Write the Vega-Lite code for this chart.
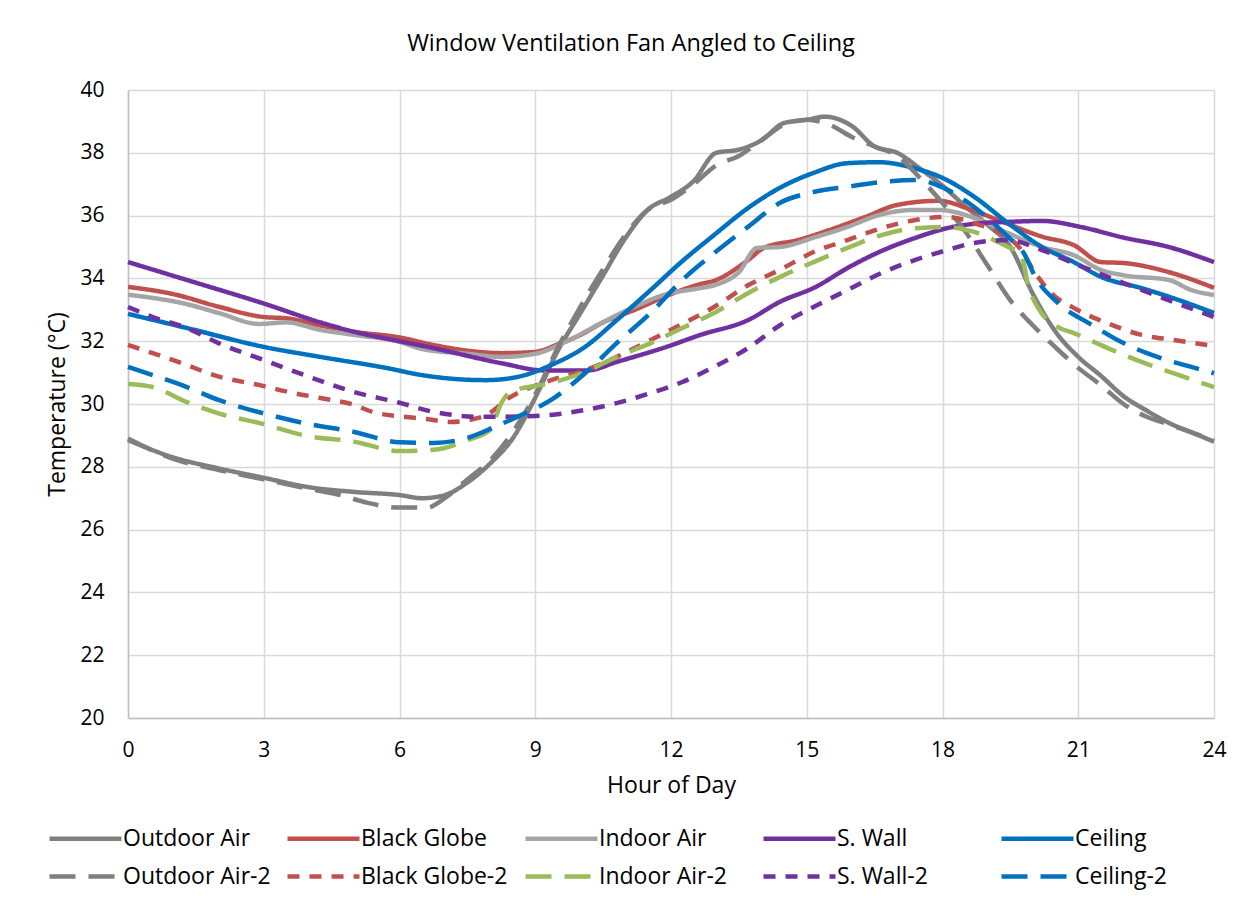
{
  "$schema": "https://vega.github.io/schema/vega-lite/v6.json",
  "autosize": "none",
  "width": 1086,
  "height": 628,
  "padding": {"left": 128, "top": 90, "right": 39, "bottom": 189},
  "background": "white",
  "title": {"text": "Window Ventilation Fan Angled to Ceiling", "font": "Open Sans", "fontSize": 23.5, "fontWeight": "normal", "color": "#000000", "anchor": "middle", "dx": -40, "offset": 24},
  "config": {
    "view": {"stroke": null},
    "font": "Open Sans",
    "axis": {"gridColor": "#D9D9D9", "gridWidth": 1.5, "domainColor": "#BFBFBF", "domainWidth": 1.5, "ticks": false, "labelFont": "Open Sans", "labelFontSize": 21, "labelColor": "#000000", "titleFont": "Open Sans", "titleFontSize": 23, "titleFontWeight": "normal", "titleColor": "#000000"}
  },
  "data": {"values": [
    {"s":"Outdoor Air","h":0,"t":28.85},{"s":"Outdoor Air","h":1,"t":28.3},{"s":"Outdoor Air","h":2,"t":27.95},{"s":"Outdoor Air","h":3,"t":27.65},{"s":"Outdoor Air","h":4,"t":27.35},{"s":"Outdoor Air","h":5,"t":27.2},{"s":"Outdoor Air","h":6,"t":27.1},{"s":"Outdoor Air","h":6.5,"t":27.0},{"s":"Outdoor Air","h":7,"t":27.1},{"s":"Outdoor Air","h":7.5,"t":27.5},{"s":"Outdoor Air","h":8,"t":28.1},{"s":"Outdoor Air","h":8.5,"t":28.9},{"s":"Outdoor Air","h":9,"t":30.2},{"s":"Outdoor Air","h":9.5,"t":31.7},{"s":"Outdoor Air","h":10,"t":32.9},{"s":"Outdoor Air","h":10.5,"t":34.1},{"s":"Outdoor Air","h":11,"t":35.3},{"s":"Outdoor Air","h":11.5,"t":36.2},{"s":"Outdoor Air","h":12,"t":36.6},{"s":"Outdoor Air","h":12.5,"t":37.1},{"s":"Outdoor Air","h":13,"t":38.0},{"s":"Outdoor Air","h":13.5,"t":38.1},{"s":"Outdoor Air","h":14,"t":38.4},{"s":"Outdoor Air","h":14.5,"t":38.95},{"s":"Outdoor Air","h":15,"t":39.05},{"s":"Outdoor Air","h":15.4,"t":39.15},{"s":"Outdoor Air","h":16,"t":38.85},{"s":"Outdoor Air","h":16.5,"t":38.2},{"s":"Outdoor Air","h":17,"t":38.0},{"s":"Outdoor Air","h":17.5,"t":37.5},{"s":"Outdoor Air","h":18,"t":36.95},{"s":"Outdoor Air","h":18.5,"t":36.3},{"s":"Outdoor Air","h":19,"t":35.7},{"s":"Outdoor Air","h":19.5,"t":35.0},{"s":"Outdoor Air","h":20,"t":33.5},{"s":"Outdoor Air","h":20.5,"t":32.3},{"s":"Outdoor Air","h":21,"t":31.5},{"s":"Outdoor Air","h":21.5,"t":30.9},{"s":"Outdoor Air","h":22,"t":30.25},{"s":"Outdoor Air","h":22.5,"t":29.8},{"s":"Outdoor Air","h":23,"t":29.4},{"s":"Outdoor Air","h":23.5,"t":29.1},{"s":"Outdoor Air","h":24,"t":28.8},
    {"s":"Black Globe","h":0,"t":33.73},{"s":"Black Globe","h":1,"t":33.5},{"s":"Black Globe","h":2,"t":33.1},{"s":"Black Globe","h":3,"t":32.77},{"s":"Black Globe","h":3.5,"t":32.73},{"s":"Black Globe","h":4.25,"t":32.5},{"s":"Black Globe","h":5,"t":32.3},{"s":"Black Globe","h":6,"t":32.12},{"s":"Black Globe","h":6.75,"t":31.88},{"s":"Black Globe","h":7.5,"t":31.7},{"s":"Black Globe","h":8.25,"t":31.62},{"s":"Black Globe","h":9,"t":31.66},{"s":"Black Globe","h":9.5,"t":31.9},{"s":"Black Globe","h":10,"t":32.2},{"s":"Black Globe","h":10.5,"t":32.6},{"s":"Black Globe","h":11.2,"t":33.0},{"s":"Black Globe","h":12,"t":33.5},{"s":"Black Globe","h":12.6,"t":33.8},{"s":"Black Globe","h":13,"t":33.95},{"s":"Black Globe","h":13.7,"t":34.58},{"s":"Black Globe","h":14.05,"t":34.97},{"s":"Black Globe","h":14.8,"t":35.22},{"s":"Black Globe","h":15.5,"t":35.54},{"s":"Black Globe","h":16.3,"t":35.96},{"s":"Black Globe","h":17,"t":36.34},{"s":"Black Globe","h":17.9,"t":36.47},{"s":"Black Globe","h":18.7,"t":36.15},{"s":"Black Globe","h":19.4,"t":35.76},{"s":"Black Globe","h":20.2,"t":35.33},{"s":"Black Globe","h":20.9,"t":35.06},{"s":"Black Globe","h":21.5,"t":34.52},{"s":"Black Globe","h":22,"t":34.49},{"s":"Black Globe","h":23,"t":34.2},{"s":"Black Globe","h":24,"t":33.7},
    {"s":"Indoor Air","h":0,"t":33.48},{"s":"Indoor Air","h":1.3,"t":33.18},{"s":"Indoor Air","h":2,"t":32.9},{"s":"Indoor Air","h":2.9,"t":32.55},{"s":"Indoor Air","h":3.5,"t":32.6},{"s":"Indoor Air","h":4.25,"t":32.36},{"s":"Indoor Air","h":5,"t":32.2},{"s":"Indoor Air","h":6,"t":31.98},{"s":"Indoor Air","h":6.5,"t":31.75},{"s":"Indoor Air","h":7.5,"t":31.6},{"s":"Indoor Air","h":8.25,"t":31.5},{"s":"Indoor Air","h":9,"t":31.6},{"s":"Indoor Air","h":9.7,"t":32.0},{"s":"Indoor Air","h":10.45,"t":32.57},{"s":"Indoor Air","h":11.2,"t":33.1},{"s":"Indoor Air","h":11.9,"t":33.5},{"s":"Indoor Air","h":12.6,"t":33.68},{"s":"Indoor Air","h":13,"t":33.8},{"s":"Indoor Air","h":13.5,"t":34.2},{"s":"Indoor Air","h":13.9,"t":34.97},{"s":"Indoor Air","h":14.4,"t":35.0},{"s":"Indoor Air","h":15.2,"t":35.32},{"s":"Indoor Air","h":15.9,"t":35.64},{"s":"Indoor Air","h":16.6,"t":36.02},{"s":"Indoor Air","h":17.4,"t":36.18},{"s":"Indoor Air","h":17.9,"t":36.18},{"s":"Indoor Air","h":18.7,"t":35.93},{"s":"Indoor Air","h":19.45,"t":35.44},{"s":"Indoor Air","h":20.2,"t":35.0},{"s":"Indoor Air","h":20.9,"t":34.74},{"s":"Indoor Air","h":21.5,"t":34.27},{"s":"Indoor Air","h":22,"t":34.1},{"s":"Indoor Air","h":23,"t":33.95},{"s":"Indoor Air","h":23.5,"t":33.63},{"s":"Indoor Air","h":24,"t":33.47},
    {"s":"S. Wall","h":0,"t":34.52},{"s":"S. Wall","h":1.3,"t":33.95},{"s":"S. Wall","h":3,"t":33.2},{"s":"S. Wall","h":4.25,"t":32.6},{"s":"S. Wall","h":5,"t":32.3},{"s":"S. Wall","h":6,"t":32.0},{"s":"S. Wall","h":6.75,"t":31.78},{"s":"S. Wall","h":8.25,"t":31.3},{"s":"S. Wall","h":9.2,"t":31.07},{"s":"S. Wall","h":10.15,"t":31.07},{"s":"S. Wall","h":10.8,"t":31.34},{"s":"S. Wall","h":11.9,"t":31.82},{"s":"S. Wall","h":12.65,"t":32.2},{"s":"S. Wall","h":13.7,"t":32.67},{"s":"S. Wall","h":14.4,"t":33.25},{"s":"S. Wall","h":15.2,"t":33.73},{"s":"S. Wall","h":15.9,"t":34.33},{"s":"S. Wall","h":16.6,"t":34.84},{"s":"S. Wall","h":17.4,"t":35.29},{"s":"S. Wall","h":18.1,"t":35.6},{"s":"S. Wall","h":18.85,"t":35.76},{"s":"S. Wall","h":19.45,"t":35.8},{"s":"S. Wall","h":20.2,"t":35.83},{"s":"S. Wall","h":21.05,"t":35.64},{"s":"S. Wall","h":22,"t":35.3},{"s":"S. Wall","h":23,"t":35.0},{"s":"S. Wall","h":24,"t":34.52},
    {"s":"Ceiling","h":0,"t":32.87},{"s":"Ceiling","h":1.3,"t":32.42},{"s":"Ceiling","h":3,"t":31.82},{"s":"Ceiling","h":4.25,"t":31.5},{"s":"Ceiling","h":5.7,"t":31.15},{"s":"Ceiling","h":6.5,"t":30.92},{"s":"Ceiling","h":7.2,"t":30.8},{"s":"Ceiling","h":7.9,"t":30.76},{"s":"Ceiling","h":8.6,"t":30.86},{"s":"Ceiling","h":9.35,"t":31.24},{"s":"Ceiling","h":10.1,"t":31.82},{"s":"Ceiling","h":10.8,"t":32.67},{"s":"Ceiling","h":11.55,"t":33.63},{"s":"Ceiling","h":12.25,"t":34.55},{"s":"Ceiling","h":12.95,"t":35.38},{"s":"Ceiling","h":13.7,"t":36.24},{"s":"Ceiling","h":14.4,"t":36.88},{"s":"Ceiling","h":15.15,"t":37.36},{"s":"Ceiling","h":15.9,"t":37.67},{"s":"Ceiling","h":16.6,"t":37.7},{"s":"Ceiling","h":17.4,"t":37.5},{"s":"Ceiling","h":18,"t":37.2},{"s":"Ceiling","h":18.7,"t":36.6},{"s":"Ceiling","h":19.45,"t":35.76},{"s":"Ceiling","h":20.2,"t":35.0},{"s":"Ceiling","h":20.9,"t":34.52},{"s":"Ceiling","h":21.5,"t":34.05},{"s":"Ceiling","h":22.4,"t":33.69},{"s":"Ceiling","h":23.1,"t":33.37},{"s":"Ceiling","h":24,"t":32.9},
    {"s":"Outdoor Air-2","h":0,"t":28.9},{"s":"Outdoor Air-2","h":1,"t":28.25},{"s":"Outdoor Air-2","h":2,"t":27.9},{"s":"Outdoor Air-2","h":3,"t":27.6},{"s":"Outdoor Air-2","h":4,"t":27.3},{"s":"Outdoor Air-2","h":4.7,"t":27.1},{"s":"Outdoor Air-2","h":5.3,"t":26.85},{"s":"Outdoor Air-2","h":6,"t":26.7},{"s":"Outdoor Air-2","h":6.6,"t":26.7},{"s":"Outdoor Air-2","h":7,"t":27.0},{"s":"Outdoor Air-2","h":7.5,"t":27.6},{"s":"Outdoor Air-2","h":8,"t":28.2},{"s":"Outdoor Air-2","h":8.5,"t":29.1},{"s":"Outdoor Air-2","h":9,"t":30.3},{"s":"Outdoor Air-2","h":9.5,"t":31.8},{"s":"Outdoor Air-2","h":10,"t":33.1},{"s":"Outdoor Air-2","h":10.5,"t":34.3},{"s":"Outdoor Air-2","h":11,"t":35.4},{"s":"Outdoor Air-2","h":11.5,"t":36.2},{"s":"Outdoor Air-2","h":12,"t":36.5},{"s":"Outdoor Air-2","h":12.5,"t":37.0},{"s":"Outdoor Air-2","h":13,"t":37.6},{"s":"Outdoor Air-2","h":13.5,"t":37.9},{"s":"Outdoor Air-2","h":14,"t":38.4},{"s":"Outdoor Air-2","h":14.5,"t":38.9},{"s":"Outdoor Air-2","h":15,"t":39.05},{"s":"Outdoor Air-2","h":15.5,"t":38.9},{"s":"Outdoor Air-2","h":16,"t":38.5},{"s":"Outdoor Air-2","h":16.5,"t":38.2},{"s":"Outdoor Air-2","h":17,"t":37.9},{"s":"Outdoor Air-2","h":17.5,"t":37.2},{"s":"Outdoor Air-2","h":18,"t":36.4},{"s":"Outdoor Air-2","h":18.5,"t":35.5},{"s":"Outdoor Air-2","h":19,"t":34.4},{"s":"Outdoor Air-2","h":19.5,"t":33.3},{"s":"Outdoor Air-2","h":20,"t":32.5},{"s":"Outdoor Air-2","h":20.5,"t":31.8},{"s":"Outdoor Air-2","h":21,"t":31.15},{"s":"Outdoor Air-2","h":21.5,"t":30.6},{"s":"Outdoor Air-2","h":22,"t":30.0},{"s":"Outdoor Air-2","h":22.5,"t":29.6},{"s":"Outdoor Air-2","h":23,"t":29.35},{"s":"Outdoor Air-2","h":23.5,"t":29.1},{"s":"Outdoor Air-2","h":24,"t":28.85},
    {"s":"Black Globe-2","h":0,"t":31.88},{"s":"Black Globe-2","h":1.3,"t":31.24},{"s":"Black Globe-2","h":1.9,"t":30.92},{"s":"Black Globe-2","h":3,"t":30.57},{"s":"Black Globe-2","h":3.65,"t":30.35},{"s":"Black Globe-2","h":4.25,"t":30.19},{"s":"Black Globe-2","h":5,"t":29.97},{"s":"Black Globe-2","h":5.4,"t":29.75},{"s":"Black Globe-2","h":6.05,"t":29.6},{"s":"Black Globe-2","h":6.6,"t":29.52},{"s":"Black Globe-2","h":7.1,"t":29.43},{"s":"Black Globe-2","h":7.85,"t":29.6},{"s":"Black Globe-2","h":8.45,"t":30.22},{"s":"Black Globe-2","h":9.35,"t":30.76},{"s":"Black Globe-2","h":10.1,"t":31.07},{"s":"Black Globe-2","h":10.8,"t":31.5},{"s":"Black Globe-2","h":11.55,"t":32.04},{"s":"Black Globe-2","h":12.25,"t":32.55},{"s":"Black Globe-2","h":12.95,"t":33.09},{"s":"Black Globe-2","h":13.7,"t":33.78},{"s":"Black Globe-2","h":14.4,"t":34.27},{"s":"Black Globe-2","h":15.15,"t":34.84},{"s":"Black Globe-2","h":15.9,"t":35.22},{"s":"Black Globe-2","h":16.65,"t":35.6},{"s":"Black Globe-2","h":17.4,"t":35.86},{"s":"Black Globe-2","h":18.05,"t":35.96},{"s":"Black Globe-2","h":18.7,"t":35.76},{"s":"Black Globe-2","h":19.65,"t":35.06},{"s":"Black Globe-2","h":20.05,"t":34.17},{"s":"Black Globe-2","h":20.4,"t":33.53},{"s":"Black Globe-2","h":20.9,"t":33.06},{"s":"Black Globe-2","h":21.65,"t":32.57},{"s":"Black Globe-2","h":22.4,"t":32.2},{"s":"Black Globe-2","h":23.1,"t":32.04},{"s":"Black Globe-2","h":24,"t":31.85},
    {"s":"Indoor Air-2","h":0,"t":30.64},{"s":"Indoor Air-2","h":0.55,"t":30.54},{"s":"Indoor Air-2","h":1.3,"t":30.06},{"s":"Indoor Air-2","h":2,"t":29.7},{"s":"Indoor Air-2","h":3,"t":29.36},{"s":"Indoor Air-2","h":3.9,"t":29.0},{"s":"Indoor Air-2","h":5,"t":28.8},{"s":"Indoor Air-2","h":6,"t":28.5},{"s":"Indoor Air-2","h":6.75,"t":28.54},{"s":"Indoor Air-2","h":7.5,"t":28.85},{"s":"Indoor Air-2","h":8,"t":29.17},{"s":"Indoor Air-2","h":8.25,"t":30.03},{"s":"Indoor Air-2","h":8.45,"t":30.38},{"s":"Indoor Air-2","h":9.35,"t":30.67},{"s":"Indoor Air-2","h":10.1,"t":31.02},{"s":"Indoor Air-2","h":10.8,"t":31.5},{"s":"Indoor Air-2","h":11.55,"t":31.94},{"s":"Indoor Air-2","h":12.25,"t":32.42},{"s":"Indoor Air-2","h":12.95,"t":32.9},{"s":"Indoor Air-2","h":13.7,"t":33.53},{"s":"Indoor Air-2","h":14.4,"t":34.04},{"s":"Indoor Air-2","h":15.15,"t":34.52},{"s":"Indoor Air-2","h":15.9,"t":34.97},{"s":"Indoor Air-2","h":16.65,"t":35.38},{"s":"Indoor Air-2","h":17.4,"t":35.6},{"s":"Indoor Air-2","h":18.05,"t":35.64},{"s":"Indoor Air-2","h":18.7,"t":35.48},{"s":"Indoor Air-2","h":19.45,"t":35.0},{"s":"Indoor Air-2","h":19.73,"t":34.8},{"s":"Indoor Air-2","h":19.9,"t":33.73},{"s":"Indoor Air-2","h":20.1,"t":33.09},{"s":"Indoor Air-2","h":20.55,"t":32.45},{"s":"Indoor Air-2","h":20.9,"t":32.26},{"s":"Indoor Air-2","h":21.65,"t":31.78},{"s":"Indoor Air-2","h":22.4,"t":31.34},{"s":"Indoor Air-2","h":23.1,"t":30.98},{"s":"Indoor Air-2","h":24,"t":30.54},
    {"s":"S. Wall-2","h":0,"t":33.09},{"s":"S. Wall-2","h":0.55,"t":32.77},{"s":"S. Wall-2","h":1.3,"t":32.42},{"s":"S. Wall-2","h":2,"t":31.94},{"s":"S. Wall-2","h":3,"t":31.4},{"s":"S. Wall-2","h":3.9,"t":30.92},{"s":"S. Wall-2","h":5,"t":30.38},{"s":"S. Wall-2","h":6,"t":30.04},{"s":"S. Wall-2","h":6.75,"t":29.75},{"s":"S. Wall-2","h":7.85,"t":29.59},{"s":"S. Wall-2","h":9,"t":29.62},{"s":"S. Wall-2","h":10.1,"t":29.81},{"s":"S. Wall-2","h":10.8,"t":30.03},{"s":"S. Wall-2","h":11.55,"t":30.35},{"s":"S. Wall-2","h":12.25,"t":30.7},{"s":"S. Wall-2","h":12.95,"t":31.18},{"s":"S. Wall-2","h":13.7,"t":31.78},{"s":"S. Wall-2","h":14.4,"t":32.5},{"s":"S. Wall-2","h":15.15,"t":33.09},{"s":"S. Wall-2","h":15.9,"t":33.63},{"s":"S. Wall-2","h":16.65,"t":34.17},{"s":"S. Wall-2","h":17.4,"t":34.59},{"s":"S. Wall-2","h":18.1,"t":34.9},{"s":"S. Wall-2","h":18.7,"t":35.13},{"s":"S. Wall-2","h":19.45,"t":35.22},{"s":"S. Wall-2","h":20.2,"t":34.9},{"s":"S. Wall-2","h":20.9,"t":34.48},{"s":"S. Wall-2","h":21.65,"t":34.05},{"s":"S. Wall-2","h":22.4,"t":33.63},{"s":"S. Wall-2","h":23.1,"t":33.25},{"s":"S. Wall-2","h":24,"t":32.77},
    {"s":"Ceiling-2","h":0,"t":31.18},{"s":"Ceiling-2","h":0.55,"t":30.92},{"s":"Ceiling-2","h":1.3,"t":30.54},{"s":"Ceiling-2","h":2,"t":30.13},{"s":"Ceiling-2","h":3,"t":29.7},{"s":"Ceiling-2","h":3.9,"t":29.39},{"s":"Ceiling-2","h":5,"t":29.11},{"s":"Ceiling-2","h":6,"t":28.78},{"s":"Ceiling-2","h":6.75,"t":28.76},{"s":"Ceiling-2","h":7.5,"t":28.92},{"s":"Ceiling-2","h":8.1,"t":29.27},{"s":"Ceiling-2","h":8.6,"t":29.59},{"s":"Ceiling-2","h":9.35,"t":30.13},{"s":"Ceiling-2","h":10.1,"t":30.98},{"s":"Ceiling-2","h":10.8,"t":31.94},{"s":"Ceiling-2","h":11.55,"t":32.9},{"s":"Ceiling-2","h":12.25,"t":33.95},{"s":"Ceiling-2","h":12.95,"t":34.8},{"s":"Ceiling-2","h":13.7,"t":35.64},{"s":"Ceiling-2","h":14.4,"t":36.4},{"s":"Ceiling-2","h":15.15,"t":36.75},{"s":"Ceiling-2","h":15.9,"t":36.92},{"s":"Ceiling-2","h":16.65,"t":37.07},{"s":"Ceiling-2","h":17.4,"t":37.13},{"s":"Ceiling-2","h":18,"t":36.9},{"s":"Ceiling-2","h":18.7,"t":36.27},{"s":"Ceiling-2","h":19.45,"t":35.32},{"s":"Ceiling-2","h":19.8,"t":34.8},{"s":"Ceiling-2","h":20.05,"t":34.05},{"s":"Ceiling-2","h":20.55,"t":33.22},{"s":"Ceiling-2","h":21.3,"t":32.52},{"s":"Ceiling-2","h":22,"t":31.94},{"s":"Ceiling-2","h":22.75,"t":31.5},{"s":"Ceiling-2","h":23.5,"t":31.18},{"s":"Ceiling-2","h":24,"t":30.98}
  ]},
  "mark": {"type": "line", "interpolate": "monotone", "strokeCap": "butt", "strokeJoin": "round"},
  "encoding": {
    "x": {"field": "h", "type": "quantitative", "title": "Hour of Day",
      "scale": {"domain": [0, 24], "nice": false, "zero": false},
      "axis": {"values": [0,3,6,9,12,15,18,21,24], "labelPadding": 21, "titlePadding": 14, "labelFlush": false}},
    "y": {"field": "t", "type": "quantitative", "title": "Temperature (°C)",
      "scale": {"domain": [20, 40], "nice": false, "zero": false},
      "axis": {"values": [20,22,24,26,28,30,32,34,36,38,40], "labelPadding": 24, "titlePadding": 10}},
    "color": {"field": "s", "type": "nominal", "title": null,
      "scale": {"domain": ["Outdoor Air","Black Globe","Indoor Air","S. Wall","Ceiling","Outdoor Air-2","Black Globe-2","Indoor Air-2","S. Wall-2","Ceiling-2"],
        "range": ["#7F7F7F","#C0504D","#A5A5A5","#7030A0","#0070C0","#7F7F7F","#C0504D","#9BBB59","#7030A0","#0070C0"]},
      "legend": {"orient": "none", "legendX": -84, "legendY": 737, "direction": "horizontal", "columns": 5, "gridAlign": "all", "columnPadding": 7, "rowPadding": 14, "symbolType": "M-6,0H6", "symbolSize": 144, "symbolOffset": 30, "labelOffset": 26, "labelFont": "Open Sans", "labelFontSize": 23, "labelColor": "#000000", "labelLimit": 300}},
    "strokeDash": {"field": "s", "type": "nominal", "title": null,
      "scale": {"domain": ["Outdoor Air","Black Globe","Indoor Air","S. Wall","Ceiling","Outdoor Air-2","Black Globe-2","Indoor Air-2","S. Wall-2","Ceiling-2"],
        "range": [[1,0],[1,0],[1,0],[1,0],[1,0],[26,13],[12,10],[26,13],[12,10],[26,13]]}},
    "strokeWidth": {"field": "s", "type": "nominal", "title": null,
      "scale": {"domain": ["Outdoor Air","Black Globe","Indoor Air","S. Wall","Ceiling","Outdoor Air-2","Black Globe-2","Indoor Air-2","S. Wall-2","Ceiling-2"],
        "range": [4.5,4.5,4.5,4.5,4.5,3,3,3,3,3]}}
  }
}
